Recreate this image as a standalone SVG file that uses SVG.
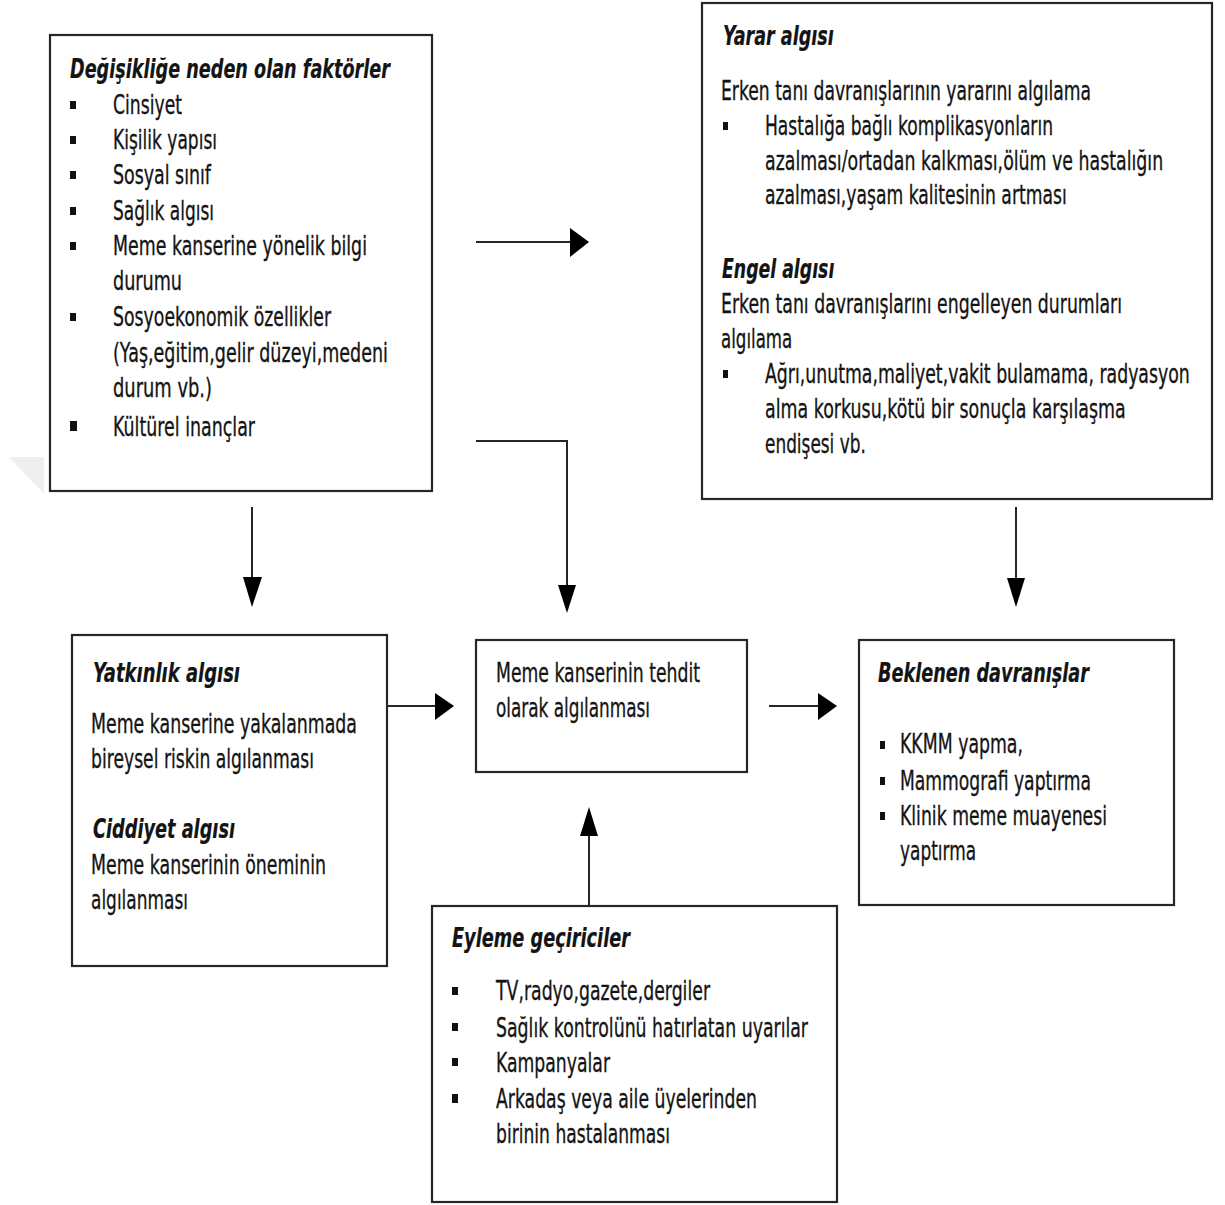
<svg xmlns="http://www.w3.org/2000/svg" width="1225" height="1205" viewBox="0 0 1225 1205">
<style>
.box{fill:#fff;stroke:#262626;stroke-width:2.2}
text{font-family:"DejaVu Sans","Liberation Sans",sans-serif;font-size:26px;fill:#141414;stroke:#141414;stroke-width:0.35}
.t{font-weight:bold;font-style:italic;stroke-width:0.2}
.b{fill:#111}
.ln{fill:none;stroke:#262626;stroke-width:2}
.hd{fill:#000}
</style>
<rect width="1225" height="1205" fill="#fff"/>
<polygon points="9,457 44,457 44,494" fill="#efefef"/>

<g id="faktorler">
<rect class="box" x="50" y="35" width="382" height="456"/>
<text class="t" x="70" y="78" textLength="320" lengthAdjust="spacingAndGlyphs">Değişikliğe neden olan faktörler</text>
<rect class="b" x="70" y="101" width="6" height="8"/>
<rect class="b" x="70" y="136" width="6" height="8"/>
<rect class="b" x="70" y="171" width="6" height="8"/>
<rect class="b" x="70" y="207" width="6" height="8"/>
<rect class="b" x="70" y="242" width="6" height="8"/>
<rect class="b" x="70" y="313" width="6" height="8"/>
<rect class="b" x="70" y="421" width="7" height="10"/>
<text x="113" y="114" textLength="69" lengthAdjust="spacingAndGlyphs">Cinsiyet</text>
<text x="113" y="149" textLength="104" lengthAdjust="spacingAndGlyphs">Kişilik yapısı</text>
<text x="113" y="184" textLength="98" lengthAdjust="spacingAndGlyphs">Sosyal sınıf</text>
<text x="113" y="220" textLength="101" lengthAdjust="spacingAndGlyphs">Sağlık algısı</text>
<text x="113" y="255" textLength="254" lengthAdjust="spacingAndGlyphs">Meme kanserine yönelik bilgi</text>
<text x="113" y="290" textLength="69" lengthAdjust="spacingAndGlyphs">durumu</text>
<text x="113" y="326" textLength="218" lengthAdjust="spacingAndGlyphs">Sosyoekonomik özellikler</text>
<text x="113" y="362" textLength="275" lengthAdjust="spacingAndGlyphs">(Yaş,eğitim,gelir düzeyi,medeni</text>
<text x="113" y="397" textLength="99" lengthAdjust="spacingAndGlyphs">durum vb.)</text>
<text x="113" y="436" textLength="142" lengthAdjust="spacingAndGlyphs">Kültürel inançlar</text>
</g>

<g id="yarar-engel">
<rect class="box" x="702" y="3" width="510" height="496"/>
<text class="t" transform="translate(723,45) scale(0.72,1)" textLength="154" lengthAdjust="spacingAndGlyphs">Yarar algısı</text>
<text transform="translate(721,100) scale(0.72,1)" textLength="514" lengthAdjust="spacingAndGlyphs">Erken tanı davranışlarının yararını algılama</text>
<rect class="b" x="723" y="122" width="5" height="8"/>
<text transform="translate(765,135) scale(0.72,1)" textLength="400" lengthAdjust="spacingAndGlyphs">Hastalığa bağlı komplikasyonların</text>
<text transform="translate(765,170) scale(0.72,1)" textLength="553" lengthAdjust="spacingAndGlyphs">azalması/ortadan kalkması,ölüm ve hastalığın</text>
<text transform="translate(765,204) scale(0.72,1)" textLength="419" lengthAdjust="spacingAndGlyphs">azalması,yaşam kalitesinin artması</text>
<text class="t" transform="translate(722,278) scale(0.72,1)" textLength="156" lengthAdjust="spacingAndGlyphs">Engel algısı</text>
<text transform="translate(721,313) scale(0.72,1)" textLength="557" lengthAdjust="spacingAndGlyphs">Erken tanı davranışlarını engelleyen durumları</text>
<text transform="translate(721,348) scale(0.72,1)" textLength="99" lengthAdjust="spacingAndGlyphs">algılama</text>
<rect class="b" x="723" y="370" width="5" height="8"/>
<text transform="translate(765,383) scale(0.72,1)" textLength="590" lengthAdjust="spacingAndGlyphs">Ağrı,unutma,maliyet,vakit bulamama, radyasyon</text>
<text transform="translate(765,418) scale(0.72,1)" textLength="501" lengthAdjust="spacingAndGlyphs">alma korkusu,kötü bir sonuçla karşılaşma</text>
<text transform="translate(765,453) scale(0.72,1)" textLength="140" lengthAdjust="spacingAndGlyphs">endişesi vb.</text>
</g>

<g id="yatkinlik-ciddiyet">
<rect class="box" x="72" y="635" width="315" height="331"/>
<text class="t" x="93" y="682" textLength="147" lengthAdjust="spacingAndGlyphs">Yatkınlık algısı</text>
<text x="91" y="733" textLength="266" lengthAdjust="spacingAndGlyphs">Meme kanserine yakalanmada</text>
<text x="91" y="768" textLength="223" lengthAdjust="spacingAndGlyphs">bireysel riskin algılanması</text>
<text class="t" x="93" y="838" textLength="142" lengthAdjust="spacingAndGlyphs">Ciddiyet algısı</text>
<text x="91" y="874" textLength="235" lengthAdjust="spacingAndGlyphs">Meme kanserinin öneminin</text>
<text x="91" y="909" textLength="97" lengthAdjust="spacingAndGlyphs">algılanması</text>
</g>

<g id="tehdit">
<rect class="box" x="476" y="640" width="271" height="132"/>
<text x="496" y="682" textLength="204" lengthAdjust="spacingAndGlyphs">Meme kanserinin tehdit</text>
<text x="496" y="717" textLength="154" lengthAdjust="spacingAndGlyphs">olarak algılanması</text>
</g>

<g id="beklenen">
<rect class="box" x="859" y="640" width="315" height="265"/>
<text class="t" x="878" y="682" textLength="211" lengthAdjust="spacingAndGlyphs">Beklenen davranışlar</text>
<rect class="b" x="880" y="741" width="5" height="8"/>
<rect class="b" x="880" y="777" width="5" height="8"/>
<rect class="b" x="880" y="812" width="5" height="8"/>
<text x="900" y="753" textLength="123" lengthAdjust="spacingAndGlyphs">KKMM yapma,</text>
<text x="900" y="790" textLength="191" lengthAdjust="spacingAndGlyphs">Mammografi yaptırma</text>
<text x="900" y="825" textLength="207" lengthAdjust="spacingAndGlyphs">Klinik meme muayenesi</text>
<text x="900" y="860" textLength="76" lengthAdjust="spacingAndGlyphs">yaptırma</text>
</g>

<g id="eyleme">
<rect class="box" x="432" y="906" width="405" height="296"/>
<text class="t" x="452" y="947" textLength="178" lengthAdjust="spacingAndGlyphs">Eyleme geçiriciler</text>
<rect class="b" x="452" y="987" width="6" height="8"/>
<rect class="b" x="452" y="1023" width="6" height="8"/>
<rect class="b" x="452" y="1058" width="6" height="8"/>
<rect class="b" x="452" y="1094" width="6" height="9"/>
<text x="496" y="1000" textLength="214" lengthAdjust="spacingAndGlyphs">TV,radyo,gazete,dergiler</text>
<text x="496" y="1037" textLength="312" lengthAdjust="spacingAndGlyphs">Sağlık kontrolünü hatırlatan uyarılar</text>
<text x="496" y="1072" textLength="114" lengthAdjust="spacingAndGlyphs">Kampanyalar</text>
<text x="496" y="1108" textLength="261" lengthAdjust="spacingAndGlyphs">Arkadaş veya aile üyelerinden</text>
<text x="496" y="1143" textLength="174" lengthAdjust="spacingAndGlyphs">birinin hastalanması</text>
</g>

<g id="connectors">
<line class="ln" x1="476" y1="242" x2="572" y2="242"/>
<polygon class="hd" points="570,228 589,242 570,257"/>
<polyline class="ln" points="476,441 567,441 567,588"/>
<polygon class="hd" points="558,585 576,585 567,613"/>
<line class="ln" x1="252" y1="507" x2="252" y2="580"/>
<polygon class="hd" points="243,577 262,577 252,607"/>
<line class="ln" x1="1016" y1="507" x2="1016" y2="580"/>
<polygon class="hd" points="1007,578 1025,578 1016,607"/>
<line class="ln" x1="387" y1="706" x2="437" y2="706"/>
<polygon class="hd" points="435,693 454,706 435,720"/>
<line class="ln" x1="769" y1="706" x2="820" y2="706"/>
<polygon class="hd" points="818,693 837,706 818,720"/>
<line class="ln" x1="589" y1="906" x2="589" y2="832"/>
<polygon class="hd" points="580,836 598,836 589,807"/>
</g>
</svg>
